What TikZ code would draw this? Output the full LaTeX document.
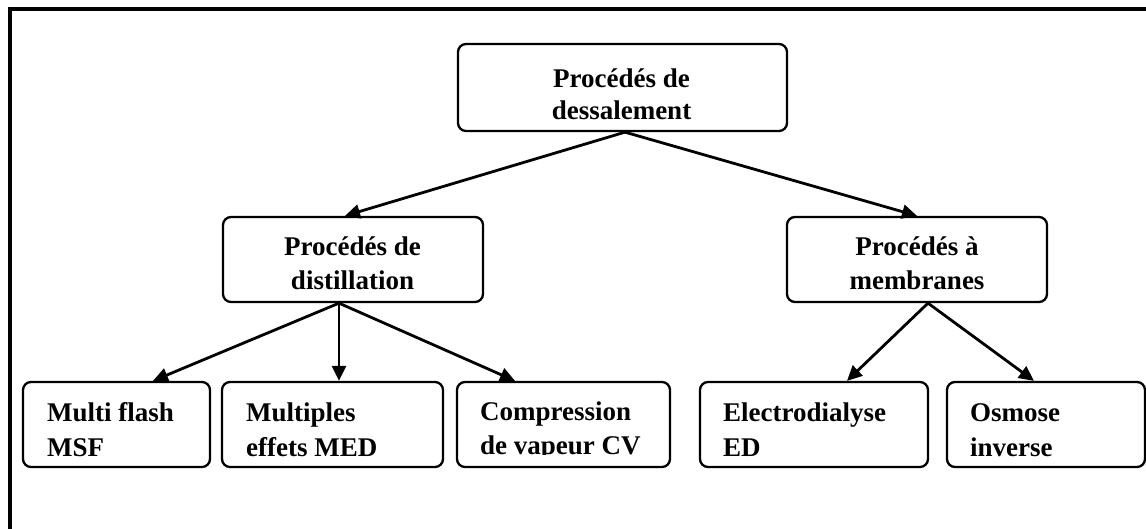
\documentclass[tikz,border=0pt]{standalone}
\usepackage{fontspec}
\setmainfont{Liberation Serif}
\usetikzlibrary{arrows.meta}
\tikzset{
  box/.style={draw=black, line width=2.3pt, rounded corners=8pt, inner sep=0pt, fill=white},
  lbl/.style={inner sep=0pt, font=\bfseries},
  conn/.style={line width=2.8pt, -{Triangle[length=15pt,width=14pt]}},
}
\newcommand{\ctext}[2]{\fontsize{27}{#1}\selectfont\begin{tabular}[t]{@{}c@{}}#2\end{tabular}}
\newcommand{\ltext}[2]{\fontsize{27}{#1}\selectfont\begin{tabular}[t]{@{}l@{}}#2\end{tabular}}
\begin{document}
\begin{tikzpicture}[x=1pt,y=-1pt]
\useasboundingbox (0,0) rectangle (1146,528);
\draw[line width=4pt] (9.5,9) rectangle (1170,560);
% boxes
\node[box, minimum width=329pt, minimum height=87pt] (top) at (622.5,87.5) {};
\node[box, minimum width=260pt, minimum height=85pt] (dist) at (353,259.5) {};
\node[box, minimum width=260pt, minimum height=85pt] (memb) at (917,259.5) {};
\node[box, minimum width=187pt, minimum height=85pt] (msf) at (116.5,424.5) {};
\node[box, minimum width=221pt, minimum height=85pt] (med) at (332.5,424.5) {};
\node[box, minimum width=213pt, minimum height=85pt] (cv) at (563.5,424.5) {};
\node[box, minimum width=228pt, minimum height=85pt] (ed) at (814,424.5) {};
\node[box, minimum width=198pt, minimum height=85pt] (osm) at (1046,424.5) {};
% texts
\node[lbl, anchor=base] (topt) at (621.5,87) {\ctext{32}{Procédés de\\dessalement}};
\node[lbl, anchor=base] (distt) at (352.5,255) {\ctext{34.5}{Procédés de\\distillation}};
\node[lbl, anchor=base] (membt) at (917,255) {\ctext{34.5}{Procédés à\\membranes}};
\node[lbl, anchor=base west] (msft) at (47,421) {\ltext{35}{Multi flash\\MSF}};
\node[lbl, anchor=base west] (medt) at (246,421) {\ltext{35}{Multiples\\effets MED}};
\begin{scope}
\clip (457,382) rectangle (670,454.5);
\node[lbl, anchor=base west] (cvt) at (480,420) {\ltext{34}{Compression\\de vapeur CV}};
\end{scope}
\node[lbl, anchor=base west] (edt) at (723,421) {\ltext{35}{Electrodialyse\\ED}};
\node[lbl, anchor=base west] (osmt) at (970,421) {\ltext{35}{Osmose\\inverse}};
% connectors
\draw[conn] ([xshift=2.5pt]top.south) -- ([xshift=-8pt]dist.north);
\draw[conn] ([xshift=2.5pt]top.south) -- (memb.north);
\draw[conn] ([xshift=-14pt]dist.south) -- ([xshift=36.5pt]msf.north);
\draw[conn] ([xshift=-14pt]dist.south) -- ([xshift=6.5pt]med.north);
\draw[conn] ([xshift=-14pt]dist.south) -- ([xshift=-48.5pt]cv.north);
\draw[conn] ([xshift=11pt]memb.south) -- ([xshift=33pt]ed.north);
\draw[conn] ([xshift=11pt]memb.south) -- ([xshift=-12pt]osm.north);
\end{tikzpicture}
\end{document}
